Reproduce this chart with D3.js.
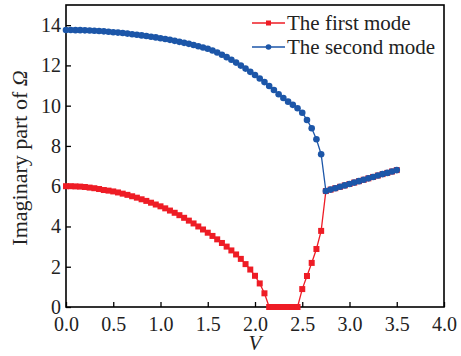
<html>
<head>
<meta charset="utf-8">
<style>
  body { margin: 0; background: #fff; }
  svg { display: block; font-family: 'Liberation Serif', 'Times New Roman', 'DejaVu Serif', serif; }
</style>
</head>
<body>
<div id="chart"></div>
<script src="https://cdnjs.cloudflare.com/ajax/libs/d3/7.8.5/d3.min.js"></script>
<script>
// velocity V
const V = [0.00,0.05,0.10,0.15,0.20,0.25,0.30,0.35,0.40,0.45,
  0.50,0.55,0.60,0.65,0.70,0.75,0.80,0.85,0.90,0.95,
  1.00,1.05,1.10,1.15,1.20,1.25,1.30,1.35,1.40,1.45,
  1.50,1.55,1.60,1.65,1.70,1.75,1.80,1.85,1.90,1.95,
  2.00,2.05,2.10,2.15,2.20,2.25,2.30,2.35,2.40,2.45,
  2.50,2.55,2.60,2.65,2.70,2.75,2.80,2.85,2.90,2.95,
  3.00,3.05,3.10,3.15,3.20,3.25,3.30,3.35,3.40,3.45,3.50]

// imaginary part of Omega, first mode
const firstMode = [6.00,6.00,5.99,5.98,5.96,5.93,5.90,5.86,5.81,5.78,
  5.74,5.69,5.63,5.57,5.50,5.43,5.35,5.27,5.18,5.09,
  5.00,4.90,4.79,4.68,4.56,4.43,4.29,4.15,4.00,3.85,
  3.69,3.53,3.36,3.18,3.00,2.81,2.61,2.39,2.13,1.86,
  1.55,1.17,0.68,0,0,0,0,0,0,0,
  0.89,1.54,2.19,2.88,3.78,5.76,5.83,5.90,5.97,6.04,
  6.11,6.18,6.25,6.32,6.39,6.46,6.53,6.60,6.66,6.73,6.80]

// imaginary part of Omega, second mode
const secondMode = [13.76,13.76,13.75,13.75,13.74,13.73,13.72,13.71,13.69,13.67,
  13.65,13.63,13.61,13.58,13.55,13.52,13.49,13.46,13.42,13.39,
  13.35,13.31,13.27,13.22,13.17,13.12,13.07,13.01,12.95,12.89,
  12.83,12.74,12.64,12.53,12.41,12.28,12.14,11.99,11.84,11.68,
  11.52,11.35,11.17,10.98,10.78,10.57,10.38,10.20,10.04,9.87,
  9.65,9.29,8.88,8.33,7.59,5.76,5.83,5.90,5.97,6.04,
  6.11,6.18,6.25,6.32,6.39,6.46,6.53,6.60,6.66,6.73,6.80]

const xTicks = [0, 0.5, 1, 1.5, 2, 2.5, 3, 3.5, 4]
const yTicks = [0, 2, 4, 6, 8, 10, 12, 14]
const seriesNames = ['The first mode', 'The second mode']
const seriesColors = ['#ee1c25', '#1c56a8']

const W = 461, H = 356
const margin = { top: 5, right: 17, bottom: 49, left: 66 }
const width = W - margin.left - margin.right
const height = H - margin.top - margin.bottom
const serif = "'Liberation Serif', 'Times New Roman', serif"

const svg = d3.select('#chart').append('svg')
  .attr('width', W)
  .attr('height', H)

const g = svg.append('g')
  .attr('transform', 'translate(' + margin.left + ',' + margin.top + ')')

const x = d3.scaleLinear().domain([0, 4]).range([0, width])
const y = d3.scaleLinear().domain([0, 15]).range([height, 0])

// axes, ticks pointing inward
g.append('g')
  .attr('transform', 'translate(0,' + height + ')')
  .call(d3.axisBottom(x).tickValues(xTicks).tickFormat(d3.format('.1f'))
    .tickSizeInner(-5).tickSizeOuter(0).tickPadding(10))
g.append('g')
  .call(d3.axisLeft(y).tickValues(yTicks)
    .tickSizeInner(-5).tickSizeOuter(0).tickPadding(5))

g.selectAll('.tick line').attr('stroke', '#000').attr('stroke-width', 1.3)
g.selectAll('.domain').remove()
g.selectAll('.tick text')
  .attr('fill', '#222')
  .style('font-family', serif)
  .style('font-size', '20px')

// frame
g.append('rect')
  .attr('width', width)
  .attr('height', height)
  .attr('fill', 'none')
  .attr('stroke', '#000')
  .attr('stroke-width', 1.6)

const pts1 = V.map((v, i) => [v, firstMode[i]])
const pts2 = V.map((v, i) => [v, secondMode[i]])

const line = d3.line().x(d => x(d[0])).y(d => y(d[1]))

// first mode
g.append('path')
  .datum(pts1)
  .attr('d', line)
  .attr('fill', 'none')
  .attr('stroke', seriesColors[0])
  .attr('stroke-width', 1.3)

g.selectAll('.sq')
  .data(pts1)
  .join('rect')
  .attr('class', 'sq')
  .attr('x', d => x(d[0]) - 3)
  .attr('y', d => y(d[1]) - 3)
  .attr('width', 6)
  .attr('height', 6)
  .attr('fill', seriesColors[0])

// second mode
g.append('path')
  .datum(pts2)
  .attr('d', line)
  .attr('fill', 'none')
  .attr('stroke', seriesColors[1])
  .attr('stroke-width', 1.3)

g.selectAll('.dot')
  .data(pts2)
  .join('circle')
  .attr('class', 'dot')
  .attr('cx', d => x(d[0]))
  .attr('cy', d => y(d[1]))
  .attr('r', 3.3)
  .attr('fill', seriesColors[1])

// axis titles
svg.append('text')
  .attr('x', margin.left + width / 2)
  .attr('y', 350)
  .attr('text-anchor', 'middle')
  .style('font-family', serif)
  .style('font-size', '21px')
  .style('font-style', 'italic')
  .attr('fill', '#222')
  .text('V')

const yt = svg.append('text')
  .attr('transform', 'translate(27,' + (margin.top + height / 2 + 2) + ') rotate(-90)')
  .attr('text-anchor', 'middle')
  .style('font-family', serif)
  .style('font-size', '22px')
  .attr('fill', '#222')
yt.append('tspan').text('Imaginary part of ')
yt.append('tspan').style('font-style', 'italic').text('Ω')

// legend
const legend = g.selectAll('.legend')
  .data(seriesNames)
  .join('g')
  .attr('class', 'legend')
  .attr('transform', (d, i) => 'translate(' + (252 - margin.left) + ',' + (23 - margin.top + i * 24) + ')')

legend.append('line')
  .attr('x1', 0).attr('x2', 33)
  .attr('stroke', (d, i) => seriesColors[i])
  .attr('stroke-width', 1.3)

legend.filter((d, i) => i === 0).append('rect')
  .attr('x', 14).attr('y', -2.5).attr('width', 5).attr('height', 5)
  .attr('fill', seriesColors[0])

legend.filter((d, i) => i === 1).append('circle')
  .attr('cx', 16.5).attr('r', 2.8)
  .attr('fill', seriesColors[1])

legend.append('text')
  .attr('x', 35)
  .attr('y', 6.5)
  .style('font-family', serif)
  .style('font-size', '21px')
  .attr('fill', '#222')
  .text(d => d)
</script>
</body>
</html>
